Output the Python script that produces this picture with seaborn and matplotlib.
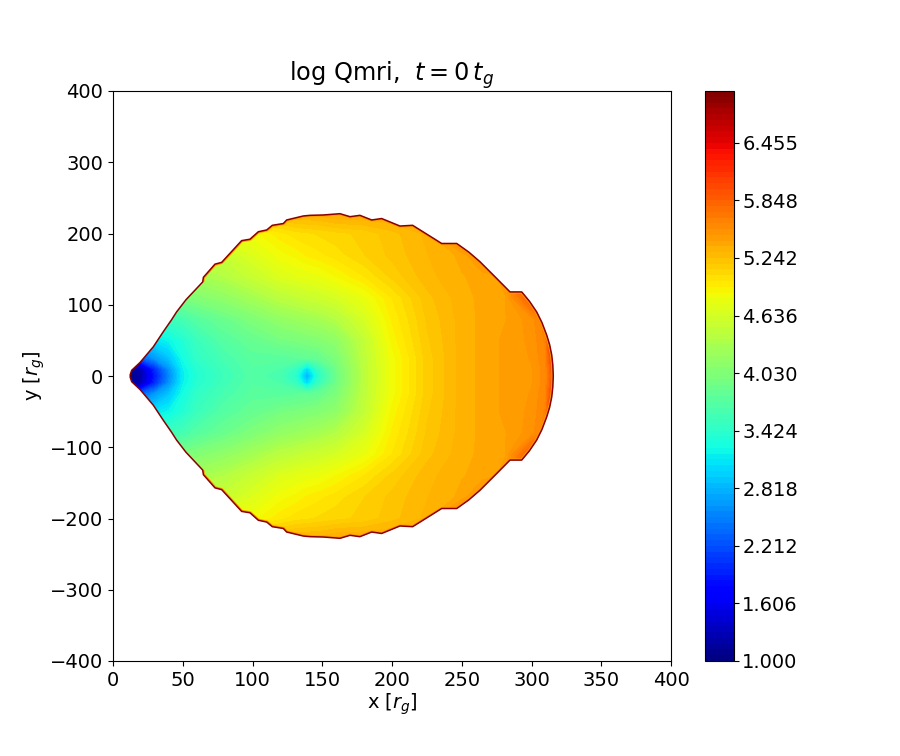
import numpy as np
import matplotlib
matplotlib.use("Agg")
import matplotlib.pyplot as plt
from matplotlib.patches import Polygon
import seaborn as sns

# radial/vertical sampling of the log Qmri map (upper half; map is mirrored)
x_grid = [0, 10, 20, 30, 40, 50, 60, 80, 100, 120, 131, 139, 147, 160, 180, 200, 225, 250, 265, 281, 300, 310, 320]
y_grid = [0, 10, 25, 50, 80, 110, 140, 170, 200, 230]
q_y0 = [1.0, 1.0, 1.2, 1.9, 2.55, 3.15, 3.35, 3.55, 3.7, 3.62, 3.4, 2.75, 3.4, 3.9, 4.45, 4.85, 5.15, 5.33, 5.38, 5.44, 5.48, 5.58, 6.2]
q_y10 = [1.0, 1.1, 1.3, 2.0, 2.62, 3.17, 3.37, 3.57, 3.72, 3.66, 3.5, 3.05, 3.5, 3.92, 4.45, 4.85, 5.15, 5.33, 5.38, 5.44, 5.48, 5.58, 6.3]
q_y25 = [1.0, 1.6, 2.3, 2.65, 2.9, 3.25, 3.45, 3.62, 3.75, 3.75, 3.78, 3.8, 3.83, 4.0, 4.47, 4.85, 5.15, 5.33, 5.38, 5.44, 5.49, 5.6, 6.5]
q_y50 = [2.5, 2.8, 3.0, 3.1, 3.2, 3.35, 3.52, 3.72, 3.85, 3.95, 3.98, 4.02, 4.05, 4.14, 4.5, 4.9, 5.17, 5.33, 5.38, 5.44, 5.5, 5.62, 7.0]
q_y80 = [3.2, 3.3, 3.4, 3.5, 3.55, 3.6, 3.72, 3.88, 4.02, 4.17, 4.22, 4.26, 4.3, 4.4, 4.65, 4.95, 5.19, 5.33, 5.38, 5.42, 5.52, 5.65, 7.0]
q_y110 = [3.8, 3.85, 3.9, 3.92, 3.95, 4.0, 4.05, 4.15, 4.3, 4.45, 4.5, 4.55, 4.58, 4.65, 4.8, 5.0, 5.22, 5.34, 5.38, 5.42, 5.9, 7.0, 7.0]
q_y140 = [4.2, 4.2, 4.2, 4.22, 4.22, 4.25, 4.3, 4.4, 4.55, 4.7, 4.75, 4.78, 4.8, 4.88, 5.0, 5.14, 5.28, 5.36, 5.38, 5.45, 7.0, 7.0, 7.0]
q_y170 = [4.5, 4.5, 4.5, 4.5, 4.5, 4.5, 4.5, 4.55, 4.7, 4.85, 4.9, 4.95, 4.98, 5.03, 5.12, 5.2, 5.3, 5.38, 5.6, 7.0, 7.0, 7.0, 7.0]
q_y200 = [4.8, 4.8, 4.8, 4.8, 4.8, 4.8, 4.8, 4.8, 4.85, 4.98, 5.03, 5.05, 5.07, 5.1, 5.14, 5.22, 5.32, 5.8, 7.0, 7.0, 7.0, 7.0, 7.0]
q_y230 = [5.2, 5.2, 5.2, 5.2, 5.2, 5.2, 5.2, 5.2, 5.3, 5.3, 5.35, 5.35, 5.35, 5.4, 5.4, 5.4, 5.4, 6.0, 7.0, 7.0, 7.0, 7.0, 7.0]

# disc outline (upper half)
edge_x = [12.2, 13.4, 19.4, 28.9, 36, 42, 45.6, 52.3, 64.3, 64.8, 73.1, 77.9, 92.2, 98.2, 104.2, 110.2, 114.2,
          122.1, 124.5, 136.4, 141.2, 150.8, 162.7, 169.9, 177, 185.4, 192.6, 205.7, 214.8, 225, 235.6, 246.4, 255, 263,
          275, 284.6, 293, 298.5, 303.7, 307.5, 310.9, 313, 314.5, 315.3, 315.6]
edge_y = [1, 8, 19, 41, 62, 79, 90, 107, 132, 138.5, 157, 159.5, 190, 192, 202.5, 205, 211.5,
          214, 219, 224.6, 225.5, 226, 227.8, 223.6, 225.5, 219, 221, 210.5, 211.5, 199, 186, 186, 174, 160.5,
          137, 118, 118, 105, 90, 75, 57.5, 44, 29.5, 15, 0]

tick_vals = [-400, -300, -200, -100, 0, 100, 200, 300, 400]
x_ticks = [0, 50, 100, 150, 200, 250, 300, 350, 400]

sns.set_style("ticks", rc={"axes.edgecolor": "black", "xtick.color": "black", "ytick.color": "black",
                           "text.color": "black", "axes.labelcolor": "black",
                           "xtick.direction": "out", "ytick.direction": "out"})
plt.rcParams["font.family"] = ["DejaVu Sans"]

half = np.array([q_y0, q_y10, q_y25, q_y50, q_y80, q_y110, q_y140, q_y170, q_y200, q_y230])
Z = np.vstack([half[:0:-1], half])
Y = np.concatenate([-np.array(y_grid[:0:-1]), y_grid])
levels = np.linspace(1, 7, 100)
cmap = plt.get_cmap("jet")

fig = plt.figure(figsize=(9, 7.56), dpi=100)
ax = fig.add_axes([113 / 900, 1 - 661 / 756, 558 / 900, 570 / 756])
cax = fig.add_axes([705 / 900, 1 - 661 / 756, 29 / 900, 570 / 756])

cf = ax.contourf(x_grid, Y, Z, levels=levels, cmap=cmap, vmin=1, vmax=7)
ox = np.concatenate([edge_x, edge_x[-2::-1]])
oy = np.concatenate([edge_y, -np.array(edge_y[-2::-1])])
clip = Polygon(np.column_stack([ox, oy]), closed=True, transform=ax.transData, fill=False, edgecolor="none")
ax.add_patch(clip)
cf.set_clip_path(clip)

inner = ox > 62
glow = np.where(inner, oy, np.nan)
l, = ax.plot(ox, glow, color="#ff9a00", lw=2.4, solid_capstyle="butt")
l.set_clip_path(clip)
ax.plot(ox, oy, color="#8a0000", lw=1.1)

ax.set_xlim(0, 400)
ax.set_ylim(-400, 400)
ax.set_xticks(x_ticks)
ax.set_yticks(tick_vals)
ax.tick_params(labelsize=14)
ax.set_xlabel(r"x [$r_g$]", fontsize=14, labelpad=1.5)
ax.set_ylabel(r"y [$r_g$]", fontsize=14, labelpad=2.5)
ax.set_title(r"log Qmri,  $t = 0\,t_g$", fontsize=17.28, pad=6)

cb = fig.colorbar(cf, cax=cax, ticks=levels[::10], format="%.3f")
cb.ax.tick_params(labelsize=14, pad=2.5)

fig.savefig("out.png", dpi=100)
